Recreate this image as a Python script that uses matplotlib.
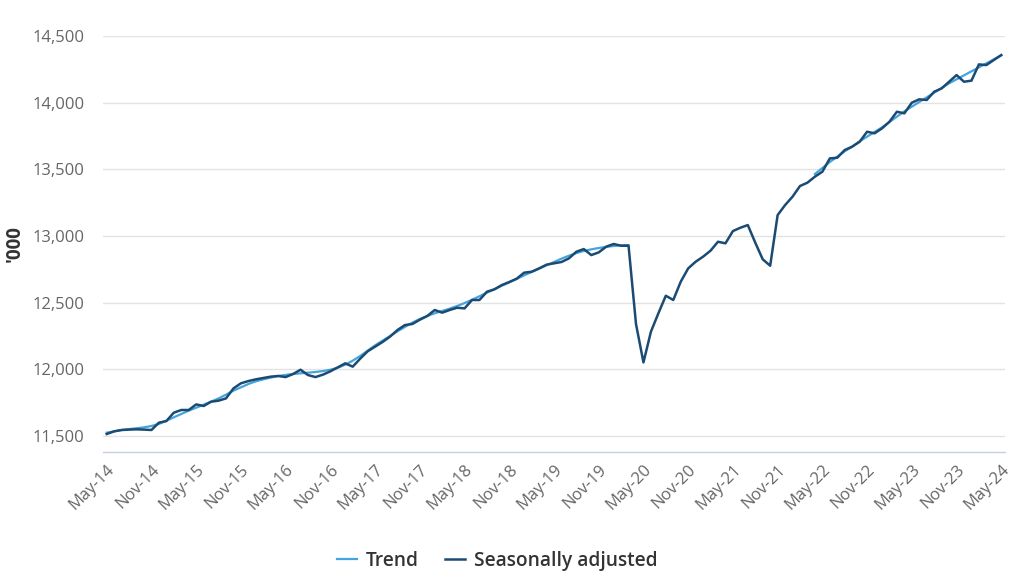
import matplotlib
matplotlib.use("Agg")
import matplotlib.pyplot as plt
import numpy as np
import matplotlib.ticker as mticker

months = ['May', 'Jun', 'Jul', 'Aug', 'Sep', 'Oct', 'Nov', 'Dec', 'Jan', 'Feb', 'Mar', 'Apr']

# Seasonally adjusted, '000, May-14 .. May-24 (monthly)
seasonally_adjusted = [
    11515, 11535, 11545, 11548, 11550, 11548, 11545, 11600, 11612, 11675, 11695, 11695,
    11737, 11725, 11757, 11765, 11782, 11857, 11895, 11912, 11925, 11935, 11945, 11950,
    11942, 11965, 11997, 11957, 11942, 11960, 11985, 12015, 12045, 12020, 12080, 12135,
    12170, 12205, 12245, 12295, 12332, 12340, 12372, 12400, 12445, 12425, 12445, 12462,
    12457, 12520, 12520, 12582, 12600, 12632, 12655, 12680, 12725, 12732, 12757, 12785,
    12795, 12805, 12832, 12882, 12902, 12857, 12877, 12920, 12940, 12927, 12927, 12340,
    12052, 12282, 12420, 12552, 12520, 12657, 12757, 12807, 12845, 12890, 12957, 12945,
    13037, 13062, 13082, 12950, 12825, 12777, 13157, 13232, 13295, 13375, 13400, 13445,
    13482, 13582, 13587, 13645, 13670, 13707, 13782, 13770, 13807, 13857, 13932, 13920,
    14000, 14025, 14020, 14082, 14107, 14157, 14207, 14157, 14165, 14287, 14282, 14320,
    14357,
]

# Trend, first segment May-14 .. Mar-20
trend_part1 = [
    11525, 11535, 11545, 11552, 11558, 11565, 11575, 11590, 11615, 11640, 11665, 11690,
    11712, 11735, 11758, 11782, 11810, 11840, 11865, 11890, 11910, 11925, 11938, 11950,
    11958, 11965, 11970, 11975, 11980, 11987, 11997, 12012, 12035, 12065, 12100, 12140,
    12180, 12215, 12250, 12285, 12318, 12350, 12378, 12400, 12420, 12438, 12455, 12475,
    12497, 12522, 12548, 12575, 12600, 12627, 12652, 12678, 12705, 12730, 12755, 12780,
    12805, 12830, 12852, 12872, 12888, 12900, 12910, 12918, 12925, 12930, 12932,
]
# Trend, second segment Apr-22 .. May-24
trend_part2 = [
    13465, 13510, 13555, 13595, 13635, 13670, 13710, 13745, 13780, 13815, 13855, 13895,
    13935, 13970, 14005, 14040, 14075, 14110, 14145, 14175, 14205, 14235, 14265, 14295,
    14325, 14355,
]

n = len(seasonally_adjusted)
assert n == 121
labels = []
for i in range(n):
    mon = months[i % 12]
    year = 14 + (i + 4) // 12
    labels.append(f"{mon}-{year:02d}")

trend = np.full(n, np.nan)
trend[:len(trend_part1)] = trend_part1
trend[n - len(trend_part2):] = trend_part2

plt.rcParams['font.family'] = ['Open Sans', 'DejaVu Sans']

fig = plt.figure(figsize=(10.24, 5.82), dpi=100)
ax = fig.add_axes([103 / 1024, 1 - 452 / 582, (1005 - 103) / 1024, (452 - 36) / 582])

x = np.arange(n)
c_trend = '#45a3dd'
c_sa = '#1b4b73'
ax.plot(x, trend, color=c_trend, lw=1.6, label='Trend', zorder=3)
ax.plot(x, seasonally_adjusted, color=c_sa, lw=1.8, label='Seasonally adjusted', zorder=4)

ax.set_xlim(-0.5, n - 0.5)
ax.set_ylim(11380, 14500)
ax.set_yticks(np.arange(11500, 14501, 500))
ax.yaxis.set_major_formatter(mticker.FuncFormatter(lambda v, p: f"{int(v):,}"))
ax.grid(axis='y', color='#e3e3e3', lw=1)
ax.set_axisbelow(True)

tick_pos = list(range(0, n, 6))
ax.set_xticks(tick_pos)
ax.set_xticklabels([labels[i] for i in tick_pos], rotation=45, ha='right',
                   rotation_mode='anchor')
ax.tick_params(axis='x', length=0, pad=7, labelsize=12, labelcolor='#666666')
ax.tick_params(axis='y', length=0, pad=13.5, labelsize=12, labelcolor='#666666')

for s in ['top', 'right', 'left']:
    ax.spines[s].set_visible(False)
ax.spines['bottom'].set_color('#c5d0e3')
ax.spines['bottom'].set_linewidth(1)

ax.set_ylabel("'000", fontsize=13.5, fontweight='bold', color='#333333', labelpad=5)

leg = fig.legend(loc='center', bbox_to_anchor=(497 / 1024, 1 - 561 / 582), ncol=2,
                 frameon=False, prop={'size': 13.8, 'weight': 'semibold'},
                 handlelength=1.05, columnspacing=1.4, handletextpad=0.45)
for t in leg.get_texts():
    t.set_color('#333333')

fig.savefig('out.png', dpi=100)
